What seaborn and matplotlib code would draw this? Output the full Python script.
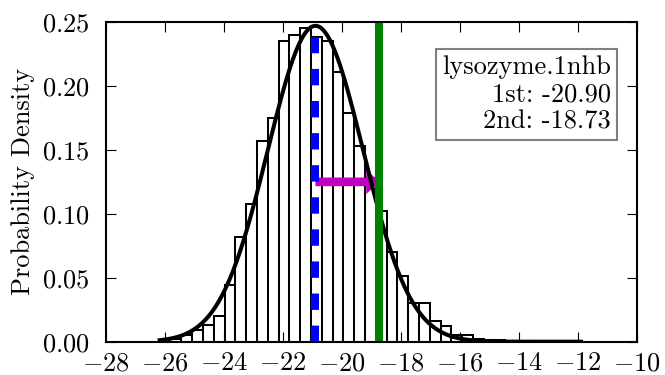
import numpy as np
import pandas as pd
import matplotlib
matplotlib.use("Agg")
import matplotlib.pyplot as plt
import seaborn as sns

# Histogram of sampled energies (probability density per bin)
bin_start = -26.18
bin_width = 0.3662
density = [0.001, 0.002, 0.005, 0.009, 0.013, 0.020, 0.044, 0.082, 0.108,
           0.157, 0.175, 0.235, 0.240, 0.245, 0.238, 0.235, 0.211, 0.179,
           0.153, 0.128, 0.102, 0.070, 0.051, 0.030, 0.030, 0.016, 0.012,
           0.005, 0.005, 0.002, 0.001, 0.001, 0.0, 0.0, 0.0005, 0.0, 0.0,
           0.0, 0.0005]

# Fitted normal distribution and the two reported values
fit_mean = -20.90
fit_sigma = 1.615
first_value = -20.90
second_value = -18.73
arrow_height = 0.125
system_name = "lysozyme.1nhb"

xticks = [-28, -26, -24, -22, -20, -18, -16, -14, -12, -10]
yticks = [0.00, 0.05, 0.10, 0.15, 0.20, 0.25]

plt.rcParams.update({
    "font.family": "serif",
    "font.serif": ["cmr10"],
    "mathtext.fontset": "cm",
    "axes.formatter.use_mathtext": True,
    "axes.unicode_minus": True,
    "lines.scale_dashes": False,
    "font.size": 19,
})

edges = bin_start + bin_width * np.arange(len(density) + 1)
centers = 0.5 * (edges[:-1] + edges[1:])
hist_df = pd.DataFrame({"energy": centers, "density": density})

fig = plt.figure(figsize=(6.65, 3.75), dpi=100)
ax = fig.add_axes([0.1594, 0.0888, 0.7985, 0.8525])

sns.histplot(data=hist_df, x="energy", weights="density", bins=list(edges),
             stat="count", color="white", edgecolor="black", linewidth=1.45,
             alpha=1.0, ax=ax)

xs = np.linspace(edges[0], edges[-1], 500)
pdf = np.exp(-0.5 * ((xs - fit_mean) / fit_sigma) ** 2) / (fit_sigma * np.sqrt(2 * np.pi))
sns.lineplot(x=xs, y=pdf, color="black", linewidth=2.9, ax=ax)

# height of the bar holding the first value
idx = int(np.searchsorted(edges, first_value) - 1)
ax.vlines(first_value, 0, density[idx], colors="#0000ff", linewidth=5.8,
          linestyles=(0, (11.8, 11.3)))
ax.axvline(second_value, color="#008000", linewidth=5.8)

ax.arrow(first_value, arrow_height, second_value - first_value, 0,
         width=0.0068, head_width=0.019, head_length=0.45,
         length_includes_head=True, color=(0.75, 0, 0.75), lw=0)

ax.text(0.9505, 0.897,
        f"{system_name}\n1st: {first_value:.2f}\n2nd: {second_value:.2f}",
        transform=ax.transAxes, ha="right", va="top", multialignment="right",
        fontsize=19, linespacing=1.2,
        bbox=dict(boxstyle="square,pad=0.23", fc="white", ec="0.5", lw=1.5))

ax.set_xlim(-28, -10)
ax.set_ylim(0, 0.25)
ax.set_xticks(xticks)
ax.set_yticks(yticks)
ax.set_xlabel("")
ax.set_ylabel("Probability Density", labelpad=5)
ax.tick_params(direction="in", length=7, width=0.8, top=True, right=True)
ax.tick_params(axis="x", pad=7)
ax.tick_params(axis="y", pad=12)
for s in ax.spines.values():
    s.set_linewidth(1.5)

fig.savefig("out.png", dpi=100)
